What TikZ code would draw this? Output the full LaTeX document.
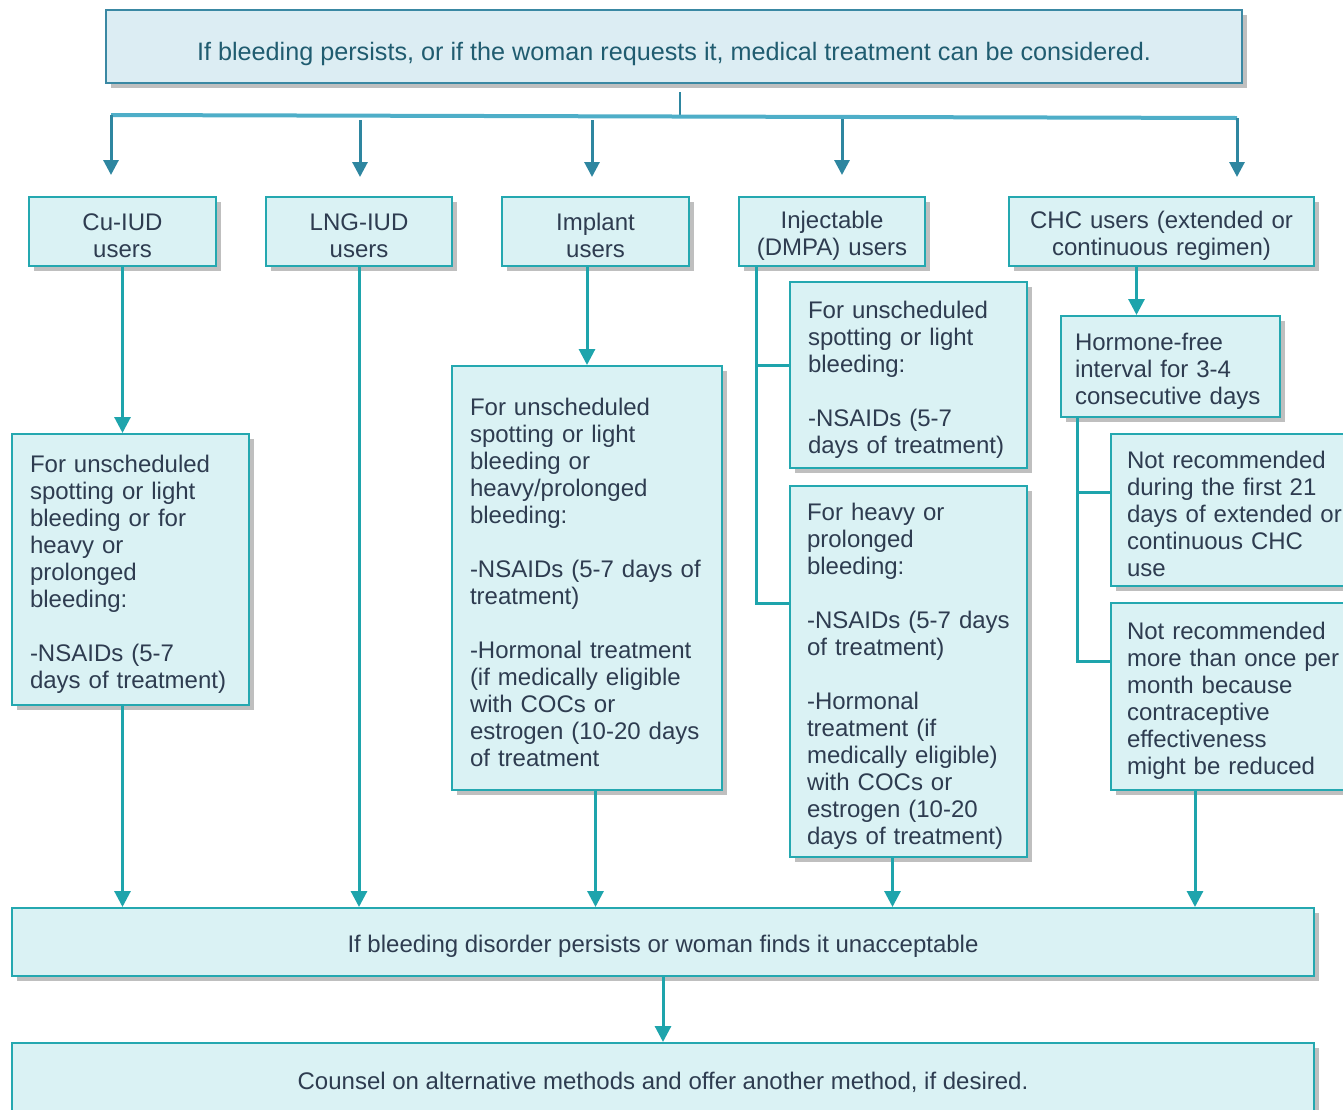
\documentclass[tikz,border=0pt]{standalone}
\usepackage{fontspec}
\setmainfont{Liberation Sans}
\usetikzlibrary{positioning}
\usetikzlibrary{shadows}
\usetikzlibrary{arrows.meta}

\definecolor{topline}{RGB}{58,136,163}
\definecolor{topfill}{RGB}{220,237,243}
\definecolor{toptext}{RGB}{32,92,112}
\definecolor{barcol}{RGB}{78,174,200}
\definecolor{toparrow}{RGB}{46,134,160}
\definecolor{boxline}{RGB}{36,168,176}
\definecolor{boxfill}{RGB}{218,242,244}
\definecolor{boxtext}{RGB}{46,60,80}
\definecolor{linkcol}{RGB}{30,164,172}

\begin{document}
\begin{tikzpicture}[x=0.5pt,y=-0.5pt,font=\fontsize{12pt}{13.5pt}\selectfont]
        \tikzset{box/.style={draw=boxline,fill=boxfill,line width=1pt,text=boxtext,inner sep=0pt,
                    execute at begin node={\rule{0pt}{13pt}},
                    drop shadow={shadow xshift=2.5pt,shadow yshift=-2.5pt,fill=black,opacity=0.25}},
                 userbox/.style={box,align=center,text width=#1,minimum width=#1,minimum height=34.5pt},
                 textbox/.style={box,align=left},
                 headbox/.style={box,draw=topline,fill=topfill,text=toptext,align=center,
                    font=\fontsize{12.6pt}{14pt}\selectfont,execute at begin node={\rule{0pt}{17pt}}},
                 bar/.style={draw=barcol,line width=2pt},
                 trunk/.style={draw=toparrow,line width=1.2pt},
                 branch/.style={draw=toparrow,line width=1.5pt,-{Triangle[width=7.5pt,length=7.5pt]}},
                 line/.style={draw=linkcol,line width=1.5pt},
                 link/.style={line,-{Triangle[width=8pt,length=8pt]}}}
        \clip (0,0) rectangle (1343,1109);
        \node[headbox,minimum width=568pt,minimum height=36.5pt](top) at (674,46.5) {If bleeding persists, or if the woman requests it, medical treatment can be considered.};
        % users
        \node[userbox=93.5pt](cu) at (122.5,231.5) {Cu-IUD\\users};
        \node[userbox=93pt](lng) at (359,231.5) {LNG-IUD\\users};
        \node[userbox=93.5pt](implant) at (595.5,231.5) {Implant\\users};
        \node[userbox=93pt](inj) at (832,231.5) {Injectable\\(DMPA) users};
        \node[userbox=152.5pt](chc) at (1161.5,231.5) {CHC users (extended or\\continuous regimen)};
        % treatments
        \node[textbox,text width=100.5pt,minimum width=118.5pt,minimum height=135.5pt](cuinfo) at (130.5,569.5) {For unscheduled\\spotting or light\\bleeding or for\\heavy or\\prolonged\\bleeding:\\[13.5pt]-NSAIDs (5-7\\days of treatment)};
        \node[textbox,text width=117pt,minimum width=135pt,minimum height=212pt](impinfo) at (587,578) {For unscheduled\\spotting or light\\bleeding or\\heavy/prolonged\\bleeding:\\[13.5pt]-NSAIDs (5-7 days of\\treatment)\\[13.5pt]-Hormonal treatment\\(if medically eligible\\with COCs or\\estrogen (10-20 days\\of treatment};
        \node[textbox,text width=100.5pt,minimum width=118.5pt,minimum height=93pt](dmpaA) at (908.5,375) {For unscheduled\\spotting or light\\bleeding:\\[13.5pt]-NSAIDs (5-7\\days of treatment)};
        \node[textbox,text width=101.5pt,minimum width=118.5pt,minimum height=185.5pt](dmpaB) at (908.5,671.5) {For heavy or\\prolonged\\bleeding:\\[13.5pt]-NSAIDs (5-7 days\\of treatment)\\[13.5pt]-Hormonal\\treatment (if\\medically eligible)\\with COCs or\\estrogen (10-20\\days of treatment)};
        \node[textbox,text width=95.5pt,minimum width=109.5pt,minimum height=50.5pt](horm) at (1170.5,366.5) {Hormone-free\\interval for 3-4\\consecutive days};
        \node[textbox,text width=104pt,minimum width=120pt,minimum height=76pt](nrA) at (1231,510) {\mbox{Not recommended}\\\mbox{during the first 21}\\\mbox{days of extended or}\\continuous CHC\\use};
        \node[textbox,text width=104pt,minimum width=120pt,minimum height=93.5pt](nrB) at (1231,696.5) {\mbox{Not recommended}\\\mbox{more than once per}\\month because\\contraceptive\\effectiveness\\might be reduced};
        % bottom
        \node[box,minimum width=651pt,minimum height=34pt](persist) at (663,942) {If bleeding disorder persists or woman finds it unacceptable};
        \node[box,minimum width=651pt,minimum height=35pt](counsel) at (663,1078) {Counsel on alternative methods and offer another method, if desired.};

        \coordinate (trunkA) at (680,92);
        \coordinate (barL) at (111,115);
        \coordinate (barM) at (680,116.5);
        \coordinate (barR) at (1237,118);
        \draw[trunk] (trunkA) -- (barM);
        \draw[bar] (barL) -- (barR);
        \foreach \n/\x/\ya/\yb in {a/111/115/175,b/360/120/177,c/592/120/177,d/842/119/175,e/1237/118/177}{
            \coordinate (s\n) at (\x,\ya);
            \coordinate (t\n) at (\x,\yb);
            \draw[branch] (s\n) -- (t\n);
        }

        \draw[link] (cu.south) -- (cu.south |- cuinfo.north);
        \draw[link] (cu.south |- cuinfo.south) -- (cu.south |- persist.north);
        \draw[link] (lng.south) -- (lng.south |- persist.north);
        \draw[link] (impinfo.north |- implant.south) -- (impinfo.north);
        \draw[link] (implant.south |- impinfo.south) -- (implant.south |- persist.north);
        \draw[line] ([xshift=9pt]inj.south west) |- ([yshift=-42pt]dmpaA.north west);
        \draw[line] ([xshift=9pt]inj.south west) |- ([yshift=-59pt]dmpaB.north west);
        \draw[link] ([xshift=-8pt]dmpaB.south) -- ([xshift=-8pt]dmpaB.south |- persist.north);
        \draw[link] ([xshift=-12.5pt]chc.south) -- ([xshift=-12.5pt]chc.south |- horm.north);
        \draw[line] ([xshift=8.5pt]horm.south west) |- ([yshift=-29.5pt]nrA.north west);
        \draw[line] ([xshift=8.5pt]horm.south west) |- ([yshift=-29.5pt]nrB.north west);
        \draw[link] ([xshift=42.5pt]nrB.south west) -- ([xshift=42.5pt]nrB.south west |- persist.north);
        \draw[link] (persist) -- (counsel);
    \end{tikzpicture}
\end{document}
